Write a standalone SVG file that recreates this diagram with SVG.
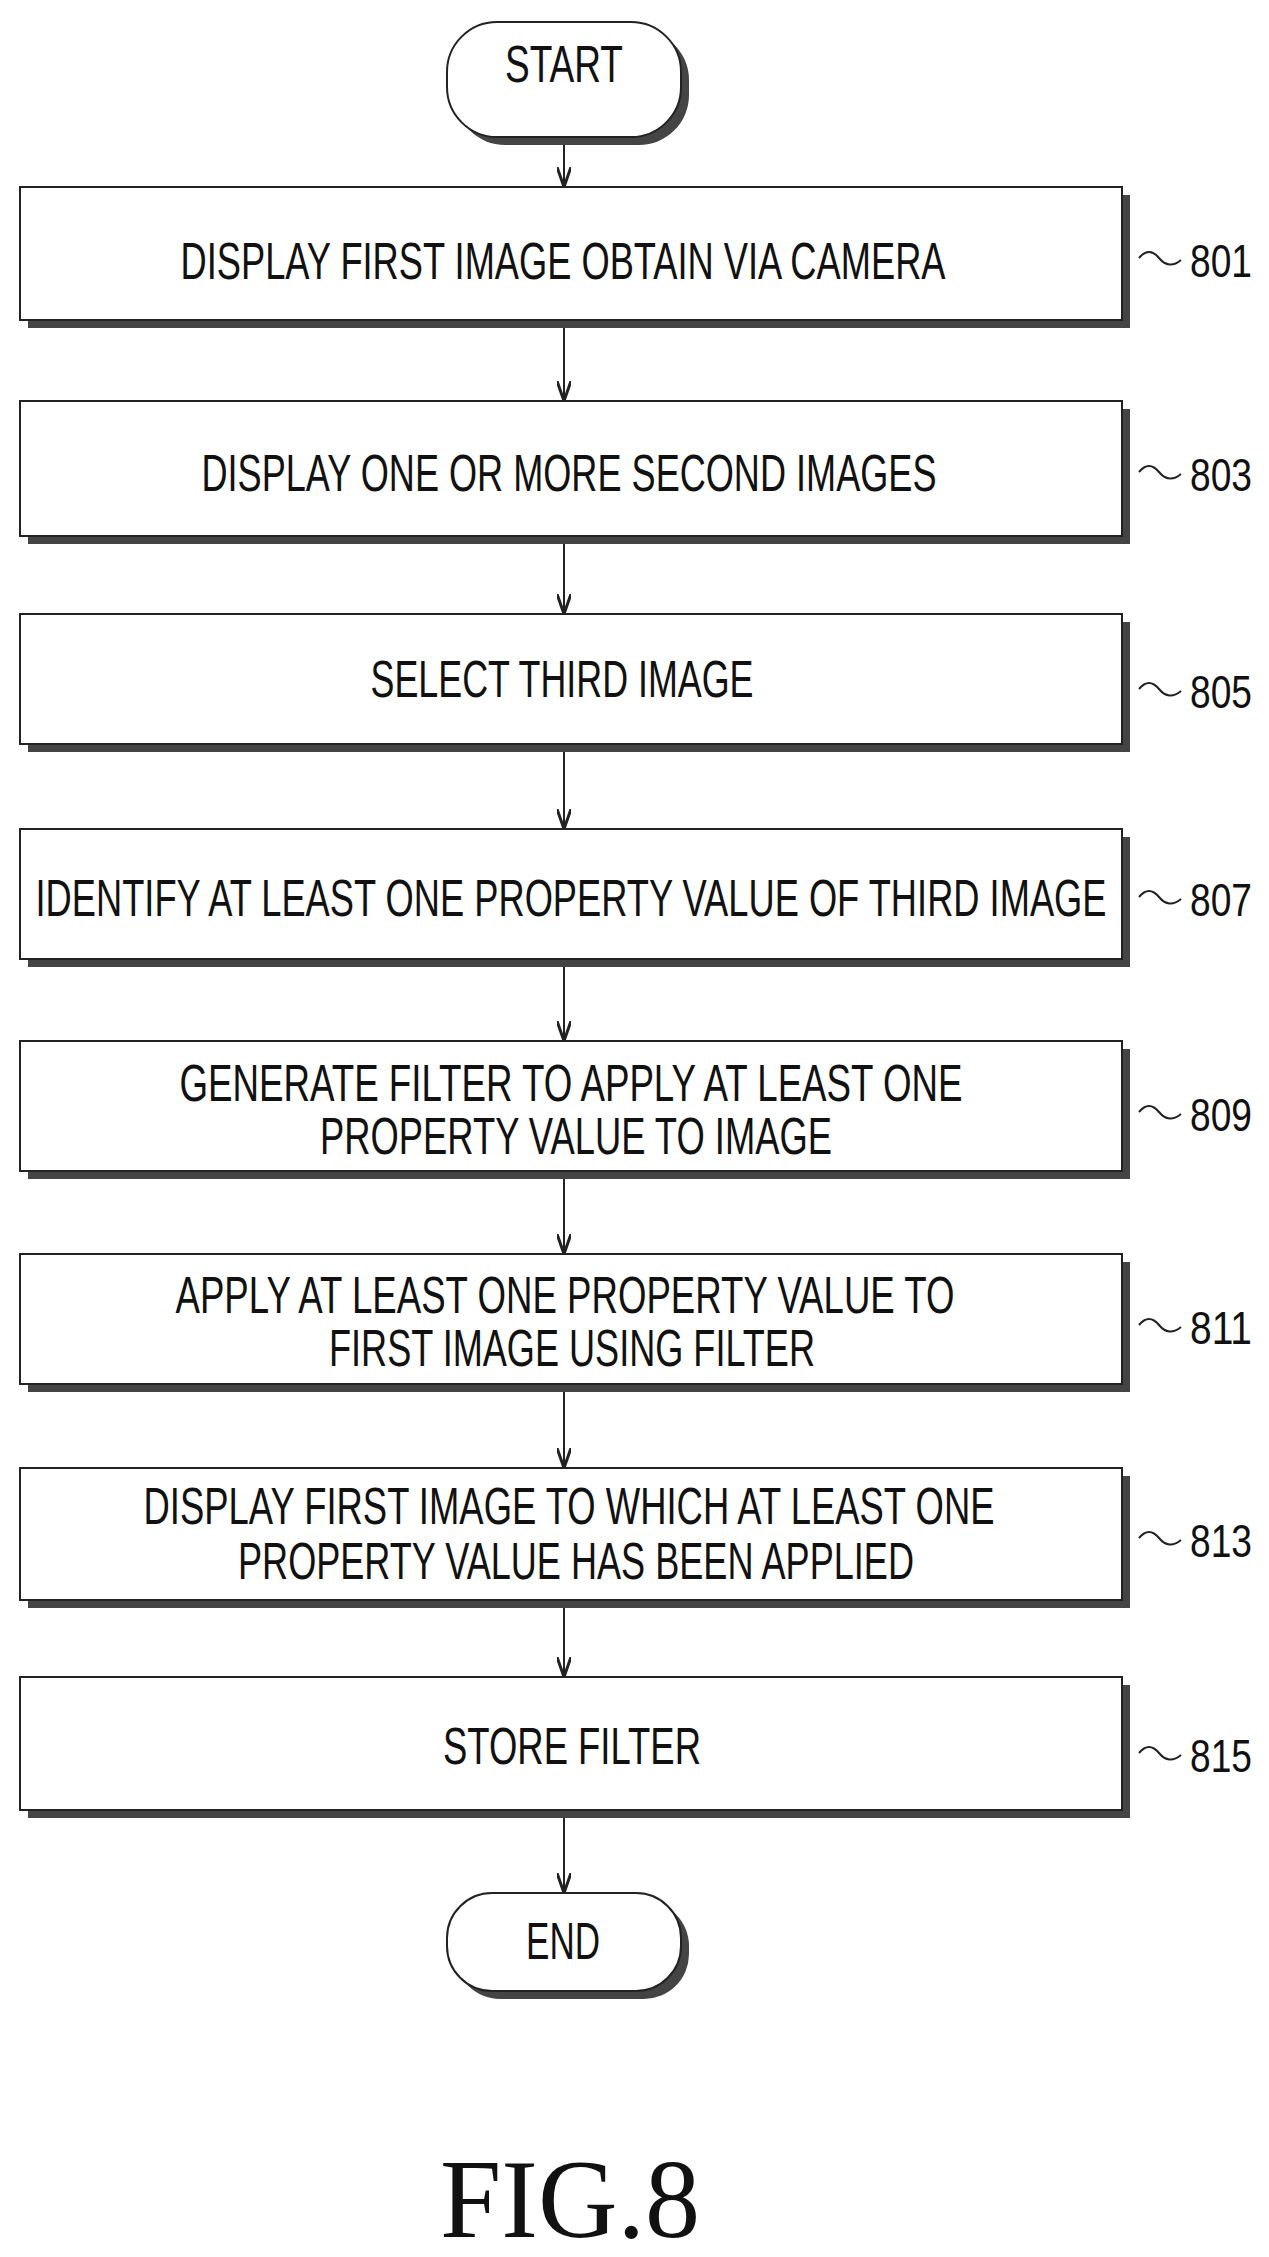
<svg xmlns="http://www.w3.org/2000/svg" width="1269" height="2257" viewBox="0 0 1269 2257">
<style>
.box{fill:#fff;stroke:#222;stroke-width:2}
.sh{fill:#444}
.t{font-family:"Liberation Sans",Arial,sans-serif;font-size:52px;fill:#111;text-anchor:middle}
.n{font-family:"Liberation Sans",Arial,sans-serif;font-size:46px;fill:#111}
.ln{fill:none;stroke:#222;stroke-width:2}
</style>
<defs><marker id="a" markerWidth="20" markerHeight="14" refX="20" refY="7" orient="auto" markerUnits="userSpaceOnUse" viewBox="0 0 20 14"><path d="M0,0 L20,7 L0,14" fill="none" stroke="#222" stroke-width="3"/></marker></defs>
<g id="start"><rect class="sh" x="455" y="30" width="234" height="115" rx="50"/><rect class="box" x="447" y="22" width="234" height="115" rx="50"/><text class="t" x="564" y="82" textLength="118" lengthAdjust="spacingAndGlyphs">START</text></g>
<g id="n801"><rect class="sh" x="28" y="195" width="1102" height="133"/><rect class="box" x="20" y="187" width="1102" height="133"/><text class="t" x="563" y="279" textLength="765" lengthAdjust="spacingAndGlyphs">DISPLAY FIRST IMAGE OBTAIN VIA CAMERA</text><path class="ln" d="M1139,258 q10,-12 20,0 t22,2"/><text class="n" x="1190" y="277" textLength="62" lengthAdjust="spacingAndGlyphs">801</text></g>
<g id="n803"><rect class="sh" x="28" y="409" width="1102" height="135"/><rect class="box" x="20" y="401" width="1102" height="135"/><text class="t" x="569" y="491" textLength="735" lengthAdjust="spacingAndGlyphs">DISPLAY ONE OR MORE SECOND IMAGES</text><path class="ln" d="M1139,472 q10,-12 20,0 t22,2"/><text class="n" x="1190" y="491" textLength="62" lengthAdjust="spacingAndGlyphs">803</text></g>
<g id="n805"><rect class="sh" x="28" y="622" width="1102" height="130"/><rect class="box" x="20" y="614" width="1102" height="130"/><text class="t" x="562" y="697" textLength="383" lengthAdjust="spacingAndGlyphs">SELECT THIRD IMAGE</text><path class="ln" d="M1139,689 q10,-12 20,0 t22,2"/><text class="n" x="1190" y="708" textLength="62" lengthAdjust="spacingAndGlyphs">805</text></g>
<g id="n807"><rect class="sh" x="28" y="837" width="1102" height="130"/><rect class="box" x="20" y="829" width="1102" height="130"/><text class="t" x="571" y="916" textLength="1071" lengthAdjust="spacingAndGlyphs">IDENTIFY AT LEAST ONE PROPERTY VALUE OF THIRD IMAGE</text><path class="ln" d="M1139,897 q10,-12 20,0 t22,2"/><text class="n" x="1190" y="916" textLength="62" lengthAdjust="spacingAndGlyphs">807</text></g>
<g id="n809"><rect class="sh" x="28" y="1049" width="1102" height="130"/><rect class="box" x="20" y="1041" width="1102" height="130"/><text class="t" x="571" y="1101" textLength="783" lengthAdjust="spacingAndGlyphs">GENERATE FILTER TO APPLY AT LEAST ONE</text><text class="t" x="576" y="1154" textLength="512" lengthAdjust="spacingAndGlyphs">PROPERTY VALUE TO IMAGE</text><path class="ln" d="M1139,1112 q10,-12 20,0 t22,2"/><text class="n" x="1190" y="1131" textLength="62" lengthAdjust="spacingAndGlyphs">809</text></g>
<g id="n811"><rect class="sh" x="28" y="1262" width="1102" height="130"/><rect class="box" x="20" y="1254" width="1102" height="130"/><text class="t" x="565" y="1313" textLength="779" lengthAdjust="spacingAndGlyphs">APPLY AT LEAST ONE PROPERTY VALUE TO</text><text class="t" x="572" y="1366" textLength="486" lengthAdjust="spacingAndGlyphs">FIRST IMAGE USING FILTER</text><path class="ln" d="M1139,1325 q10,-12 20,0 t22,2"/><text class="n" x="1190" y="1344" textLength="62" lengthAdjust="spacingAndGlyphs">811</text></g>
<g id="n813"><rect class="sh" x="28" y="1476" width="1102" height="132"/><rect class="box" x="20" y="1468" width="1102" height="132"/><text class="t" x="569" y="1524" textLength="851" lengthAdjust="spacingAndGlyphs">DISPLAY FIRST IMAGE TO WHICH AT LEAST ONE</text><text class="t" x="576" y="1579" textLength="676" lengthAdjust="spacingAndGlyphs">PROPERTY VALUE HAS BEEN APPLIED</text><path class="ln" d="M1139,1538 q10,-12 20,0 t22,2"/><text class="n" x="1190" y="1557" textLength="62" lengthAdjust="spacingAndGlyphs">813</text></g>
<g id="n815"><rect class="sh" x="28" y="1685" width="1102" height="133"/><rect class="box" x="20" y="1677" width="1102" height="133"/><text class="t" x="572" y="1764" textLength="258" lengthAdjust="spacingAndGlyphs">STORE FILTER</text><path class="ln" d="M1139,1753 q10,-12 20,0 t22,2"/><text class="n" x="1190" y="1772" textLength="62" lengthAdjust="spacingAndGlyphs">815</text></g>
<g id="end"><rect class="sh" x="455" y="1901" width="234" height="98" rx="45"/><rect class="box" x="447" y="1893" width="234" height="98" rx="45"/><text class="t" x="563" y="1959" textLength="74" lengthAdjust="spacingAndGlyphs">END</text></g>
<g id="connectors" class="ln">
<line x1="564" y1="145" x2="564" y2="187" marker-end="url(#a)"/>
<line x1="564" y1="328" x2="564" y2="401" marker-end="url(#a)"/>
<line x1="564" y1="544" x2="564" y2="614" marker-end="url(#a)"/>
<line x1="564" y1="752" x2="564" y2="829" marker-end="url(#a)"/>
<line x1="564" y1="967" x2="564" y2="1041" marker-end="url(#a)"/>
<line x1="564" y1="1179" x2="564" y2="1254" marker-end="url(#a)"/>
<line x1="564" y1="1392" x2="564" y2="1468" marker-end="url(#a)"/>
<line x1="564" y1="1608" x2="564" y2="1677" marker-end="url(#a)"/>
<line x1="564" y1="1818" x2="564" y2="1893" marker-end="url(#a)"/>
</g>
<text x="570" y="2237" font-family="'Liberation Serif','Times New Roman',serif" font-size="112" fill="#111" text-anchor="middle" textLength="260" lengthAdjust="spacingAndGlyphs">FIG.8</text>
</svg>
